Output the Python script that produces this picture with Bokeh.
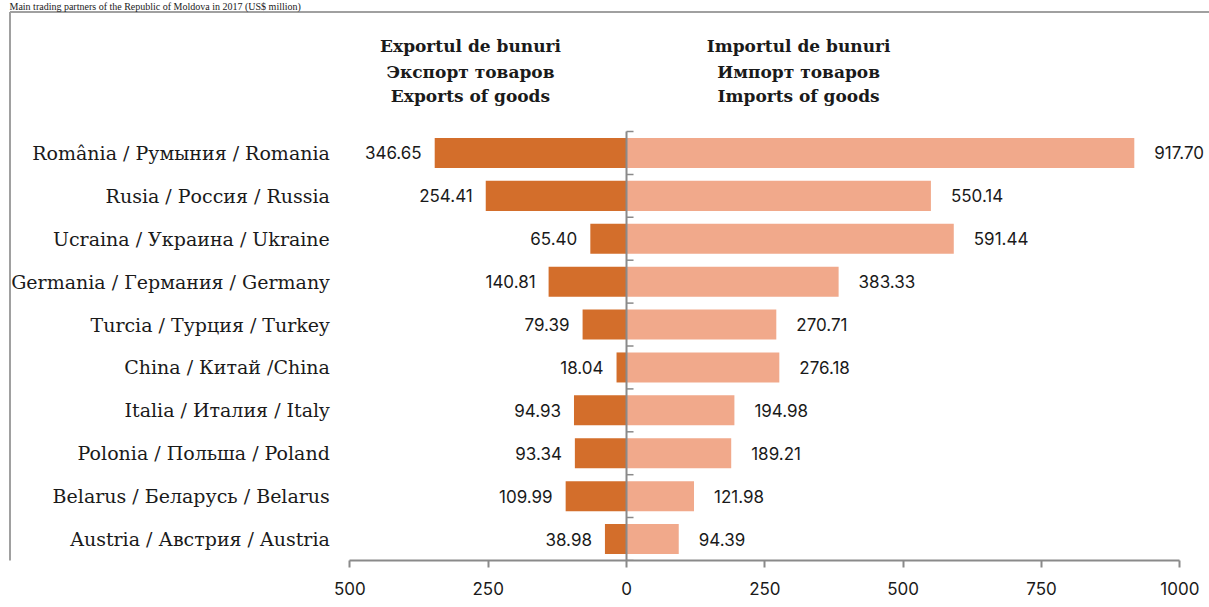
from bokeh.plotting import figure
from bokeh.models import FixedTicker
from bokeh.core.properties import value
from bokeh.embed import file_html
from bokeh.resources import INLINE

# ---- data ----
countries = [
    "România / Румыния / Romania",
    "Rusia / Россия / Russia",
    "Ucraina / Украина / Ukraine",
    "Germania / Германия / Germany",
    "Turcia / Турция / Turkey",
    "China / Китай /China",
    "Italia / Италия / Italy",
    "Polonia / Польша / Poland",
    "Belarus / Беларусь / Belarus",
    "Austria / Австрия / Austria",
]
exports = [346.65, 254.41, 65.40, 140.81, 79.39, 18.04, 94.93, 93.34, 109.99, 38.98]
imports = [917.70, 550.14, 591.44, 383.33, 270.71, 276.18, 194.98, 189.21, 121.98, 94.39]
tick_values = [-500, -250, 0, 250, 500, 750, 1000]
export_header = ["Exportul de bunuri", "Экспорт товаров", "Exports of goods"]
import_header = ["Importul de bunuri", "Импорт товаров", "Imports of goods"]
title_text = "Main trading partners of the Republic of Moldova in 2017 (US$ million)"

# ---- layout ----
n = len(countries)
ypos = [n - 1 - i for i in range(n)]
W, H = 1209, 607
TOP, BOT, LEFT = 0, 47, 8
ORANGE = "#D36E2B"
PEACH = "#F1A98B"
GRAY = "#8A8A8A"
BORDER = "#A0A0A0"
TXT = "#1a1a1a"
NUM_FONT = "Inter"

x_start, x_end = -1116.9, 1053.6
y_bottom, y_top = -0.5, 12.554
border_x, border_y = -1114.2, 12.286

p = figure(width=W, height=H, output_backend="svg", toolbar_location=None,
           x_range=(x_start, x_end), y_range=(y_bottom, y_top),
           min_border_left=LEFT, min_border_right=0, min_border_top=TOP, min_border_bottom=BOT)
p.xgrid.visible = False
p.ygrid.visible = False
p.yaxis.visible = False
p.outline_line_color = None
p.background_fill_color = "white"
p.border_fill_color = "white"

# border box (left & top)
p.segment(x0=[border_x, border_x], y0=[y_bottom - 2, border_y],
          x1=[border_x, x_end + 10], y1=[border_y, border_y],
          line_color=BORDER, line_width=2)

# title (above the border box)
p.text(x=[x_start], y=[y_top], text=[title_text], x_offset=1, y_offset=0,
       text_align="left", text_baseline="top", text_font=value("Liberation Serif"),
       text_font_size="10px", text_color=TXT)

# bars
p.hbar(y=ypos, left=[-e for e in exports], right=0, height=0.7, fill_color=ORANGE, line_color=None)
p.hbar(y=ypos, left=0, right=imports, height=0.7, fill_color=PEACH, line_color=None)

# central category axis
p.segment(x0=0, y0=-0.5, x1=0, y1=n - 0.5, line_color=GRAY, line_width=2)
p.ray(x=[0] * (n + 1), y=[b - 0.5 for b in range(n + 1)], length=7, length_units="screen",
      angle=0, line_color=GRAY, line_width=1.5)

# value labels
p.text(x=[-e for e in exports], y=ypos, text=["%.2f" % e for e in exports],
       x_offset=-13, text_align="right", text_baseline="middle",
       text_font=value(NUM_FONT), text_font_size="17px", text_color=TXT)
p.text(x=imports, y=ypos, text=["%.2f" % v for v in imports],
       x_offset=20, text_align="left", text_baseline="middle",
       text_font=value(NUM_FONT), text_font_size="17px", text_color=TXT)

# category labels
p.text(x=[-500] * n, y=ypos, text=countries, x_offset=-20, text_align="right",
       text_baseline="middle", text_font=value("DejaVu Serif"), text_font_size="19px",
       text_color=TXT)

# headers
for k, off in enumerate([-86, -60, -36]):
    p.text(x=[-282], y=[n - 0.5], text=[export_header[k]], y_offset=off,
           text_align="center", text_baseline="middle", text_font=value("DejaVu Serif"),
           text_font_size="17px", text_font_style="bold", text_color=TXT)
    p.text(x=[311], y=[n - 0.5], text=[import_header[k]], y_offset=off,
           text_align="center", text_baseline="middle", text_font=value("DejaVu Serif"),
           text_font_size="17px", text_font_style="bold", text_color=TXT)

# x axis
ax = p.xaxis[0]
ax.ticker = FixedTicker(ticks=tick_values)
ax.major_label_overrides = {t: str(abs(t)) for t in tick_values}
ax.bounds = (-500, 1000)
ax.axis_line_color = GRAY
ax.axis_line_width = 2
ax.major_tick_line_color = GRAY
ax.major_tick_line_width = 2
ax.major_tick_out = 7
ax.major_tick_in = 0
ax.minor_tick_line_color = None
ax.major_label_standoff = 14
ax.major_label_text_font = NUM_FONT
ax.major_label_text_font_size = "17px"
ax.major_label_text_color = TXT

open("out.html", "w").write(file_html(p, INLINE))
